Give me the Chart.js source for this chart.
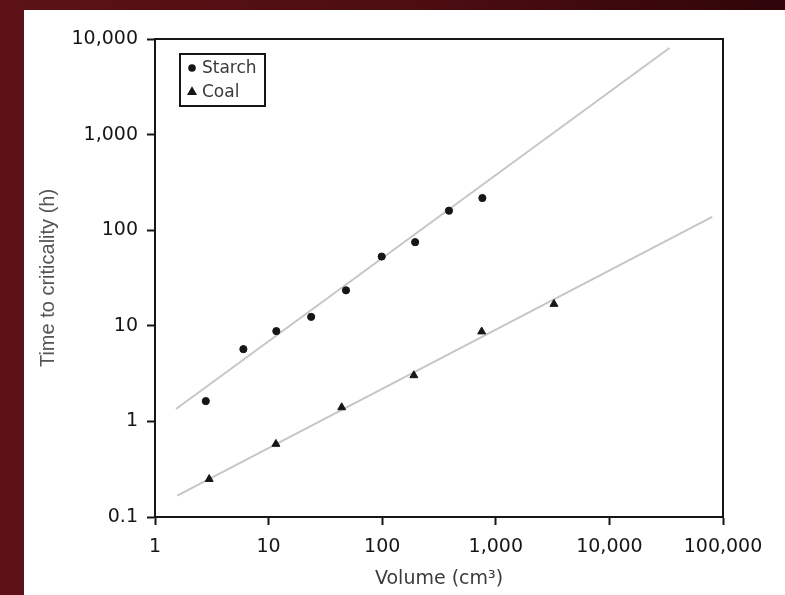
<!DOCTYPE html>
<html>
<head>
<meta charset="utf-8">
<script src="https://cdn.jsdelivr.net/npm/chart.js@4/dist/chart.umd.min.js"></script>
<style>
  html, body { margin: 0; padding: 0; }
  body {
    width: 785px; height: 595px; overflow: hidden;
    background: linear-gradient(90deg, #5c1216 0%, #4c0d11 55%, #2f0509 100%);
  }
  #panel {
    position: absolute; left: 24px; top: 10px;
    width: 761px; height: 585px; background: #ffffff;
  }
</style>
</head>
<body>
<div id="panel"><canvas id="chart" width="761" height="585"></canvas></div>
<script>
// --- data ---
const starchVolume = [2.8, 6, 11.7, 23.7, 48, 99, 195, 387, 762];
const starchTime   = [1.63, 5.7, 8.8, 12.4, 23.5, 53, 75, 160, 217];

const coalVolume = [3.0, 11.6, 44, 190, 751, 3250];
const coalTime   = [0.249, 0.58, 1.40, 3.03, 8.7, 16.9];

// fitted trend lines (end points)
const starchFitVolume = [1.53, 33800];
const starchFitTime   = [1.35, 8050];
const coalFitVolume   = [1.57, 80400];
const coalFitTime     = [0.167, 138];

const xTicks = [1, 10, 100, 1000, 10000, 100000];
const yTicks = [0.1, 1, 10, 100, 1000, 10000];

const toPoints = (xs, ys) => xs.map((x, i) => ({ x: x, y: ys[i] }));
const fmt = (v) => Number(v).toLocaleString('en-US');

const ink = '#161616';

// box round the plot area
const framePlugin = {
    id: 'frame',
    afterDatasetsDraw(chart) {
        const { ctx, chartArea: a } = chart;
        ctx.save();
        ctx.strokeStyle = ink;
        ctx.lineWidth = 2;
        ctx.strokeRect(a.left, a.top, a.right - a.left, a.bottom - a.top);
        ctx.restore();
    }
};

// boxed legend inside the plot, top left
const boxLegend = {
    id: 'boxLegend',
    afterDraw(chart) {
        const { ctx, chartArea: a } = chart;
        const items = chart.data.datasets.filter(d => d.inLegend);
        const bx = a.left + 25, by = a.top + 15, bw = 85, bh = 52;
        ctx.save();
        ctx.fillStyle = '#fff';
        ctx.fillRect(bx, by, bw, bh);
        ctx.strokeStyle = ink;
        ctx.lineWidth = 2;
        ctx.strokeRect(bx, by, bw, bh);
        ctx.font = '17px "DejaVu Sans", sans-serif';
        ctx.textBaseline = 'middle';
        items.forEach((d, i) => {
            const y = by + 14 + i * 24;
            ctx.fillStyle = ink;
            ctx.strokeStyle = ink;
            Chart.helpers.drawPoint(ctx, {
                pointStyle: d.pointStyle, radius: d.pointRadius - 0.8, borderWidth: 1
            }, bx + 12, y);
            ctx.fillStyle = '#3a3a3a';
            ctx.fillText(d.label, bx + 22, y + 1);
        });
        ctx.restore();
    }
};

new Chart(document.getElementById('chart'), {
    type: 'scatter',
    data: {
        datasets: [
            {
                label: 'Starch',
                inLegend: true,
                data: toPoints(starchVolume, starchTime),
                pointStyle: 'circle',
                pointRadius: 3.6,
                backgroundColor: ink,
                borderColor: ink,
                order: 1
            },
            {
                label: 'Coal',
                inLegend: true,
                data: toPoints(coalVolume, coalTime),
                pointStyle: 'triangle',
                pointRadius: 4.6,
                backgroundColor: ink,
                borderColor: ink,
                order: 1
            },
            {
                type: 'line',
                label: 'Starch fit',
                data: toPoints(starchFitVolume, starchFitTime),
                borderColor: '#c6c6c6',
                borderWidth: 2,
                pointRadius: 0,
                order: 2
            },
            {
                type: 'line',
                label: 'Coal fit',
                data: toPoints(coalFitVolume, coalFitTime),
                borderColor: '#c6c6c6',
                borderWidth: 2,
                pointRadius: 0,
                order: 2
            }
        ]
    },
    options: {
        responsive: false,
        animation: false,
        layout: { padding: { top: 29, right: 62, bottom: 0, left: 0 } },
        plugins: {
            legend: { display: false },
            tooltip: { enabled: false }
        },
        scales: {
            x: {
                type: 'logarithmic',
                min: 1,
                max: 100000,
                afterBuildTicks: (s) => { s.ticks = xTicks.map(v => ({ value: v })); },
                afterFit: (s) => { s.height = 78; },
                grid: { drawOnChartArea: false, drawTicks: true, tickLength: 8, tickWidth: 2, color: ink },
                border: { display: true, color: ink, width: 2 },
                ticks: {
                    callback: (v) => fmt(v),
                    autoSkip: false, maxRotation: 0, padding: 11,
                    color: '#161616',
                    font: { family: '"DejaVu Sans", sans-serif', size: 19 }
                },
                title: {
                    display: true,
                    text: 'Volume (cm³)',
                    color: '#3c3c3c',
                    padding: { top: 0, bottom: 5 },
                    font: { family: '"DejaVu Sans", sans-serif', size: 19 }
                }
            },
            y: {
                type: 'logarithmic',
                min: 0.1,
                max: 10000,
                afterBuildTicks: (s) => { s.ticks = yTicks.map(v => ({ value: v })); },
                afterFit: (s) => { s.width = 131; },
                grid: { drawOnChartArea: false, drawTicks: true, tickLength: 8, tickWidth: 2, color: ink },
                border: { display: true, color: ink, width: 2 },
                ticks: {
                    callback: (v) => fmt(v),
                    autoSkip: false, padding: 9,
                    color: '#161616',
                    font: { family: '"DejaVu Sans", sans-serif', size: 19 }
                },
                title: {
                    display: true,
                    text: 'Time to criticality (h)',
                    color: '#555555',
                    padding: { top: 12, bottom: 0 },
                    font: { family: '"Liberation Sans", Arial, sans-serif', size: 20 }
                }
            }
        }
    },
    plugins: [framePlugin, boxLegend]
});
</script>
</body>
</html>
